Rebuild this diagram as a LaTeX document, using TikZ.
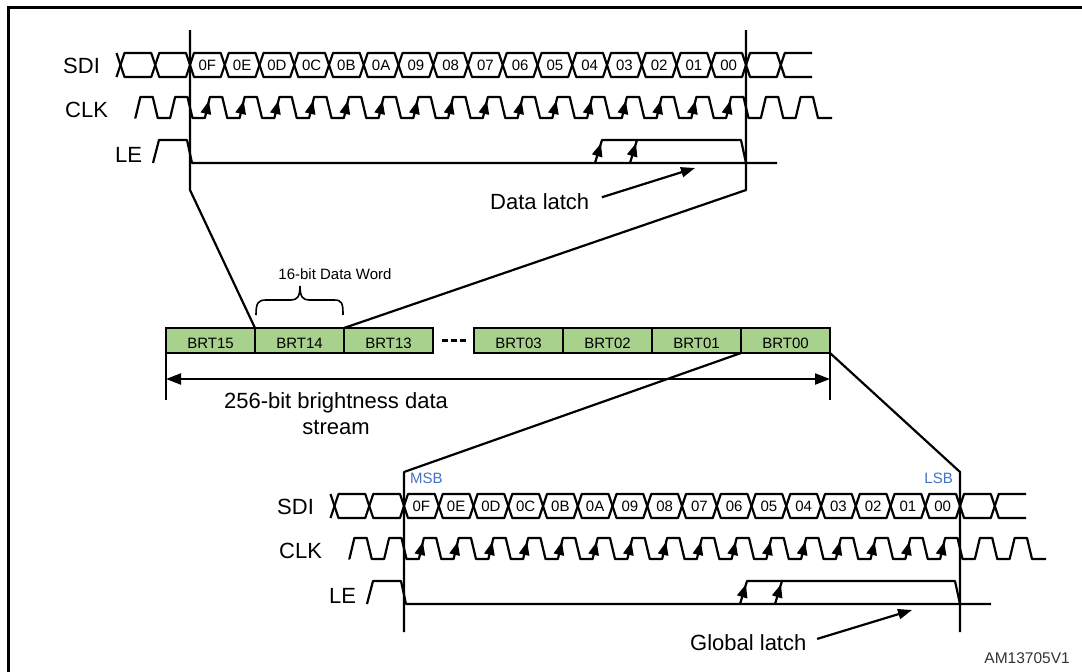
\documentclass[tikz,border=0pt]{standalone}
\usepackage{fontspec}
\setmainfont{Liberation Sans}
\usetikzlibrary{arrows.meta,positioning}
\definecolor{brtgreen}{RGB}{169,209,142}
\definecolor{bitblue}{RGB}{68,114,196}

\newcommand\wavegroup[3]{%
  \node[lbl] (#1sdi) at (63,73) {SDI};
  \node[lbl] (#1clk) at (65,117) {CLK};
  \node[lbl] (#1le) at (115,162) {LE};
  \draw[sig] (116.5,53) -- (120.5,65) -- (116.5,77);
  \foreach \k in {-2,...,16}
    \draw[sig] ({190+\k*34.75},65) -- ({194+\k*34.75},53) -- ({186+(\k+1)*34.75},53)
      -- ({190+(\k+1)*34.75},65) -- ({186+(\k+1)*34.75},77) -- ({194+\k*34.75},77) -- cycle;
  \draw[sig] (812,53) -- (784.75,53) -- (780.75,65) -- (784.75,77) -- (812,77);
  \foreach \lab [count=\k from 0] in {0F,0E,0D,0C,0B,0A,09,08,07,06,05,04,03,02,01,00}
    \node[cell] (#1d\k) at ({190+(\k+.5)*34.75},70.5) {\lab};
  \draw[sig] (135.4,118) \foreach \k in {-2,...,17} {
      -- ({187.5+(\k+.5)*34.75},118) -- ({192.5+(\k+.5)*34.75},97)
      -- ({187.5+(\k+1)*34.75},97) -- ({192.5+(\k+1)*34.75},118)} -- (832,118);
  \foreach \k in {0,...,15}
    \fill ({191.5+(\k+.5)*34.75},101) -- ({193.85+(\k+.5)*34.75},114.9)
      -- ({183.15+(\k+.5)*34.75},112.4) -- cycle;
  \draw[sig] (153,163) -- (159,140) -- (187,140) -- (192,163) -- (777,163);
  \draw[sig] (#2,163) -- ({#2+7},140) -- (741,140) -- (746,163);
  \draw[sig] (#3,163) -- ({#3+7},140);
  \foreach \x in {#2,#3}
    \fill ({\x+5.9},143.5) -- ({\x+7.4},157.5) -- ({\x-3.1},154.3) -- cycle;
}

\begin{document}
\begin{tikzpicture}[x=1pt,y=-1pt,
  sig/.style={line width=2.2pt,line join=round},
  lbl/.style={font=\fontsize{22}{26}\selectfont,inner sep=0pt,anchor=base west},
  cell/.style={font=\fontsize{15}{18}\selectfont,inner sep=0pt,anchor=base},
  brt/.style={draw,line width=2.2pt,fill=brtgreen,minimum width=89pt,minimum height=25pt,
    outer sep=0pt,inner sep=0pt,text height=16pt,text depth=0pt,font=\fontsize{15}{18}\selectfont},
  latch/.style={line width=2.2pt,-{Triangle[length=14pt,width=10pt]}},
  bit/.style={font=\fontsize{15}{18}\selectfont,text=bitblue,inner sep=0pt}]
\useasboundingbox (0,0) rectangle (1082,672);
\draw[line width=3pt] (8,672) -- (8,7) -- (1082,7);

\wavegroup{t}{595}{630}
\begin{scope}[shift={(214,441)}]
  \wavegroup{b}{526}{561}
\end{scope}

\coordinate (tl1) at (190,30); \coordinate (tl2) at (190,190);
\coordinate (tr1) at (746,30); \coordinate (tr2) at (746,190);
\coordinate (bl1) at (404,472); \coordinate (bl2) at (404,632);
\coordinate (br1) at (960,472); \coordinate (br2) at (960,632);

\node[brt,anchor=north west] (b15) at (166,328) {BRT15};
\node[brt,right=0pt of b15] (b14) {BRT14};
\node[brt,right=0pt of b14] (b13) {BRT13};
\node[brt,anchor=north west] (b03) at (474,328) {BRT03};
\node[brt,right=0pt of b03] (b02) {BRT02};
\node[brt,right=0pt of b02] (b01) {BRT01};
\node[brt,right=0pt of b01] (b00) {BRT00};

\draw[sig] (tl1) -- (tl2) -- (b14.north west);
\draw[sig] (tr1) -- (tr2) -- (b14.north east);
\draw[sig] (b00.south west) -- (bl1) -- (bl2);
\draw[sig] (b00.south east) -- (br1) -- (br2);
\draw[sig,dash pattern=on 6pt off 3pt] ([xshift=9pt]b13.east) -- ([xshift=-8pt]b03.west);

\draw[line width=1.6pt] (256,315) .. controls (256,303) and (258,300) .. (266,300) -- (291,300)
  .. controls (297,300) and (300,297) .. (300,286) .. controls (300,297) and (303,300) .. (309,300)
  -- (334,300) .. controls (342,300) and (343,303) .. (343,315);
\node[cell] (word) at (335,279) {16-bit Data Word};

\draw[sig] (b15.south west) -- ++(0,47) coordinate (s1);
\draw[sig] (b00.south east) -- ++(0,47) coordinate (s2);
\draw[sig,{Triangle[length=15pt,width=11pt]}-{Triangle[length=15pt,width=11pt]}]
  ([yshift=21pt]s1) -- ([yshift=21pt]s2);
\node[font=\fontsize{22}{26}\selectfont,align=center,inner sep=0pt,anchor=north] (stream)
  at (336,392) {256-bit brightness data\\stream};

\node[lbl] (dlatch) at (490,209) {Data latch};
\coordinate (dtip) at (695,168);
\draw[latch,shorten <=13pt] (dlatch.east) -- (dtip);
\node[lbl] (glatch) at (690,650) {Global latch};
\coordinate (gtip) at (912,610);
\draw[latch,shorten <=11pt] (glatch.east) -- (gtip);

\node[bit,anchor=base west] (msb) at (410,483) {MSB};
\node[bit,anchor=base east] (lsb) at (953,483) {LSB};
\node[font=\fontsize{15.5}{18}\selectfont,text=black!80,inner sep=0pt,anchor=base east] (figid)
  at (1070,663) {AM13705V1};
\end{tikzpicture}
\end{document}
